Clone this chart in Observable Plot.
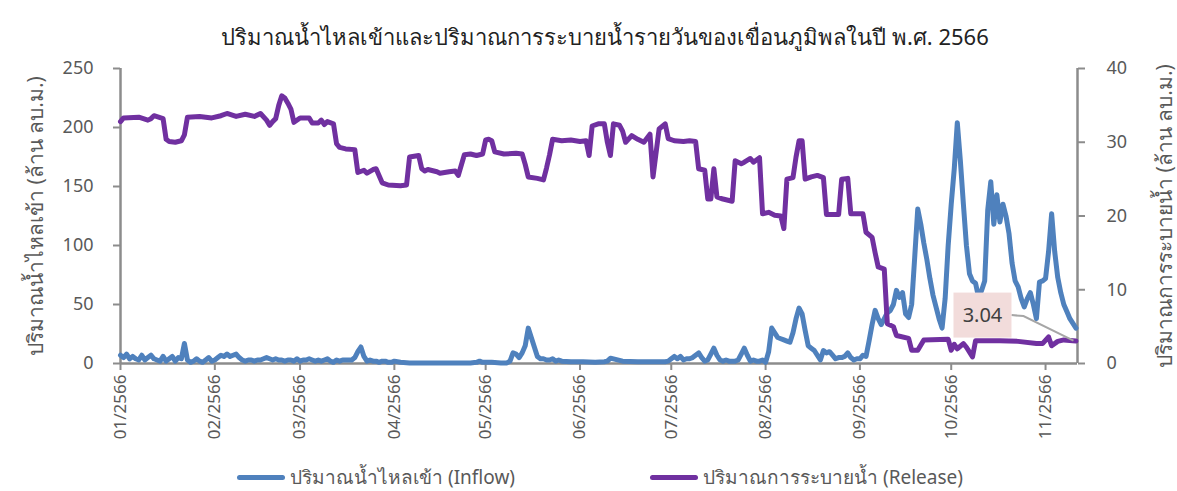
<!DOCTYPE html>
<html><head><meta charset="utf-8">
<script src="https://cdn.jsdelivr.net/npm/d3@7"></script>
<script src="https://cdn.jsdelivr.net/npm/@observablehq/plot@0.6"></script>
<style>
body{margin:0;background:#fff;font-family:"Noto Sans","DejaVu Sans",sans-serif;}
#wrap{position:relative;width:1177px;height:491px;overflow:hidden;}
#title{position:absolute;left:0;width:1210px;top:22px;text-align:center;font-size:22px;color:#222;line-height:1.3;}
.leg{position:absolute;top:463px;height:28px;line-height:28px;font-size:19px;color:#595959;display:flex;align-items:center;white-space:nowrap;}
.sw{width:48px;height:5px;border-radius:3px;margin-right:5px;}
</style></head>
<body><div id="wrap"><div id="title"></div></div>
<script>
const titleText = "ปริมาณน้ำไหลเข้าและปริมาณการระบายน้ำรายวันของเขื่อนภูมิพลในปี พ.ศ. 2566";
const leftLabel = "ปริมาณน้ำไหลเข้า (ล้าน ลบ.ม.)";
const rightLabel = "ปริมาณการระบายน้ำ (ล้าน ลบ.ม.)";
const inflowName = "ปริมาณน้ำไหลเข้า (Inflow)";
const releaseName = "ปริมาณการระบายน้ำ (Release)";
const leftTicks = [0, 50, 100, 150, 200, 250];
const rightTicks = [0, 10, 20, 30, 40];
const annotationLabel = "3.04";

// day offsets from 1 Jan 2566 (2023)
const inflowDays = [0,1,2,3,4,5,6,7,8,9,10,11,12,13,14,15,16,17,18,19,20,21,22,23,24,25,26,27,28,29,30,31,32,33,34,35,36,37,38,39,40,41,42,43,44,45,46,47,48,49,50,51,52,53,54,55,56,57,58,59,60,61,62,63,64,65,66,67,68,69,70,71,72,73,74,75,76,77,78,79,80,81,82,83,84,85,86,87,88,89,90,92,95,100,105,110,115,117,118,119,122,125,127,128,129,130,131,132,133,134,135,136,137,138,139,140,141,142,143,144,145,148,152,156,159,160,161,165,170,175,178,179,180,181,182,183,184,185,186,187,188,189,190,191,192,193,194,195,196,197,198,199,200,201,202,203,204,205,206,207,208,209,210,211,212,213,214,215,216,217,218,219,220,221,222,223,224,225,226,227,228,229,230,231,232,233,234,235,236,237,238,239,240,241,242,243,244,245,246,247,248,249,250,251,252,253,254,255,256,257,258,259,260,261,262,263,264,265,266,267,268,269,270,271,272,273,274,275,276,277,278,279,280,281,282,283,284,285,286,287,288,289,290,291,292,293,294,295,296,297,298,299,300,301,302,303,304,305,306,307,308,309,310,311,312,313,314];
const inflowValues = [7,5,8,4,6,4,3,7,3,5,7,4,3,2,6,2,4,6,2,5,4,17,3,1,2,4,2,1,3,5,2,3,5,7,6,8,6,7,8,5,3,2,3,3,2,3,3,4,5,4,3,4,3,3,2,3,3,2,4,2,3,3,4,3,2,3,2,3,4,2,1,3,2,3,3,3,3,5,10,14,6,2,3,2,2,1,2,2,1,1,2,1,0.5,0.5,0.5,0.5,0.5,1,2,1,1,0.5,0.5,2,9,8,5,9,15,30,22,14,6,4,4,3,3,4,2,3,2,1.5,1.5,1,1.5,2,4.5,2,1.5,1.5,1.5,1.5,2,4,6,4,6,3,4,4,5,7,9,5,2,3,8,13,7,3,2,3,2,2,2,3,8,13,7,2,3,2,2,3,1,10,30,26,22,21,20,19,18,26,38,47,42,28,15,13,11,7,3,11,9,10,7,4,5,5,6,9,5,3,4,4,7,6,19,33,45,38,33,38,43,45,50,62,56,60,42,39,50,90,131,118,102,88,72,58,48,38,30,55,100,135,165,204,172,135,100,76,70,68,56,62,70,130,154,118,143,120,135,125,110,85,70,65,55,48,55,60,50,38,69,70,72,95,127,95,73,60,50,44,38,34,30,28,24];

const releaseDays = [0,1,6,9,10,11,14,15,16,18,20,21,22,26,30,33,35,38,41,44,46,48,49,50,51,52,53,54,55,56,57,59,62,63,65,66,67,68,70,71,72,74,77,78,80,81,83,84,86,88,92,94,95,98,99,100,101,104,105,108,110,111,113,115,117,119,120,121,122,123,126,130,132,133,134,137,139,140,141,142,145,148,151,153,154,155,157,159,160,161,162,164,165,166,168,170,172,174,175,177,179,180,182,185,187,189,190,192,193,194,195,196,198,201,202,204,205,207,208,210,211,213,215,217,218,219,221,222,223,224,225,227,229,231,232,236,237,239,240,244,245,247,248,249,251,252,254,255,259,260,262,264,272,273,274,275,277,278,280,281,289,295,301,303,305,306,308,310,314];
const releaseValues = [32.8,33.3,33.4,33.0,33.2,33.6,33.2,30.4,30.1,30.0,30.2,31.0,33.4,33.5,33.3,33.6,33.9,33.5,33.8,33.5,33.9,33.0,32.3,32.8,33.2,35.0,36.3,36.0,35.3,34.5,32.7,33.3,33.3,32.6,32.6,33.0,32.4,32.8,32.5,29.8,29.3,29.1,29.0,25.9,26.2,25.8,26.3,26.4,24.5,24.2,24.1,24.2,28.0,28.2,26.4,26.1,26.3,26.0,25.8,26.0,26.1,25.5,28.3,28.4,28.2,28.4,30.3,30.4,30.2,28.7,28.4,28.5,28.4,27.0,25.3,25.1,24.9,26.5,28.3,30.4,30.2,30.3,30.1,30.2,28.2,32.2,32.5,32.5,30.0,28.2,32.5,32.3,31.5,30.0,30.9,30.4,30.0,31.1,25.3,31.8,32.5,30.5,30.2,30.1,30.2,30.1,26.4,26.2,22.3,22.3,26.4,22.6,22.3,22.0,27.5,27.1,27.3,27.8,27.3,27.9,20.3,20.5,20.1,20.0,18.3,25.0,25.2,28.0,30.2,30.2,25.0,25.3,25.5,25.2,20.2,20.2,25.0,25.1,20.3,20.3,17.8,17.1,15.0,13.1,12.8,5.4,5.0,3.8,3.4,1.8,1.8,3.2,3.3,1.8,2.6,2.0,2.7,2.2,0.9,3.1,3.1,3.0,2.7,2.7,3.6,2.4,3.0,3.2,3.04];

const start = Date.UTC(2023, 0, 1);
const dayToDate = d => new Date(start + d * 864e5);
const ratio = 250 / 40;
const inflow = inflowDays.map((d, i) => ({date: dayToDate(d), v: inflowValues[i]}));
const release = releaseDays.map((d, i) => ({date: dayToDate(d), v: releaseValues[i] * ratio, raw: releaseValues[i]}));
const monthTicks = d3.range(0, 11).map(m => new Date(Date.UTC(2023, m, 1)));
const fmtMonth = d => String(d.getUTCMonth() + 1).padStart(2, "0") + "/" + (d.getUTCFullYear() + 543);
const axisColor = "#8c8c8c";
const textColor = "#595959";
const last = release[release.length - 1];

function calloutMark(index, scales) {
  const px = scales.x(last.date), py = scales.y(last.v);
  const g = d3.create("svg:g");
  const bx = px - 122, by = py - 48, bw = 58, bh = 45;
  g.append("polyline").attr("points", `${bx + bw},${by + bh / 2} ${bx + bw + 12},${by + bh / 2 + 1} ${px - 2},${py}`)
    .attr("fill", "none").attr("stroke", "#a6a6a6").attr("stroke-width", 2);
  g.append("rect").attr("x", bx).attr("y", by).attr("width", bw).attr("height", bh).attr("fill", "#f2dcdb");
  g.append("text").attr("x", bx + bw / 2).attr("y", by + bh / 2).attr("text-anchor", "middle").attr("dy", "0.35em")
    .attr("font-size", 20).attr("fill", "#404040").text(annotationLabel);
  return g.node();
}

const chart = Plot.plot({
  width: 1177, height: 491,
  marginTop: 68, marginBottom: 128, marginLeft: 120, marginRight: 100,
  style: {fontFamily: '"Noto Sans","DejaVu Sans",sans-serif', fontSize: "17px", color: textColor, background: "transparent"},
  x: {type: "utc", domain: [dayToDate(0), dayToDate(314.5)]},
  y: {domain: [0, 250]},
  marks: [
    Plot.axisY({ticks: leftTicks, tickSize: 7, tickPadding: 20, stroke: axisColor, strokeWidth: 2, label: null, fontSize: 18}),
    Plot.axisY({anchor: "right", ticks: rightTicks.map(t => t * ratio), tickFormat: d => Math.round(d / ratio), tickSize: 7, tickPadding: 22, stroke: axisColor, strokeWidth: 2, label: null, fontSize: 18}),
    Plot.axisX({ticks: monthTicks, tickFormat: fmtMonth, tickRotate: -90, tickSize: 7, tickPadding: 4, stroke: axisColor, strokeWidth: 2, label: null, fontSize: 17}),
    Plot.ruleX([dayToDate(0)], {stroke: axisColor, strokeWidth: 2.5}),
    Plot.ruleX([dayToDate(314.5)], {stroke: axisColor, strokeWidth: 2.5}),
    Plot.ruleY([0], {stroke: axisColor, strokeWidth: 2.5}),
    Plot.line(inflow, {x: "date", y: "v", stroke: "#4f81bd", strokeWidth: 5, curve: "linear"}),
    Plot.line(release, {x: "date", y: "v", stroke: "#7030a0", strokeWidth: 5, curve: "linear"}),
    calloutMark,
    Plot.text([leftLabel], {frameAnchor: "left", textAnchor: "middle", dx: -84, rotate: -90, fontSize: 21, fill: textColor}),
    Plot.text([rightLabel], {frameAnchor: "right", textAnchor: "middle", dx: 88, rotate: -90, fontSize: 21, fill: textColor})
  ]
});

const wrap = document.getElementById("wrap");
wrap.prepend(chart);
chart.style.position = "absolute"; chart.style.left = "0"; chart.style.top = "0";
document.getElementById("title").textContent = titleText;
const legend = [[inflowName, "#4f81bd", 237], [releaseName, "#7030a0", 650]];
for (const [name, color, left] of legend) {
  const div = document.createElement("div");
  div.className = "leg"; div.style.left = left + "px";
  div.innerHTML = `<div class="sw" style="background:${color}"></div><span></span>`;
  div.querySelector("span").textContent = name;
  wrap.appendChild(div);
}
</script></body></html>
